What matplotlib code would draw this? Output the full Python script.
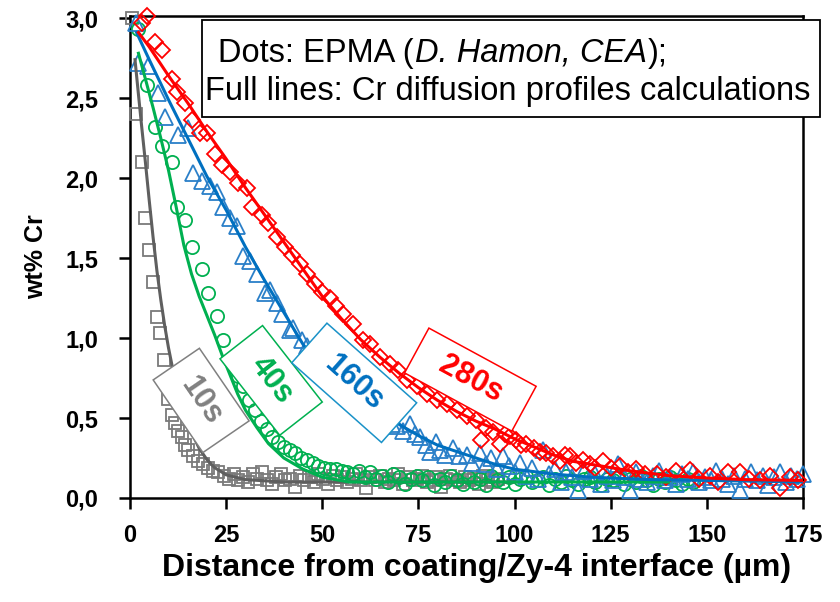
import matplotlib
matplotlib.use("Agg")
import matplotlib.pyplot as plt
import matplotlib.transforms as mtransforms
from matplotlib.patches import Rectangle

plt.rcParams['font.family'] = ['Liberation Sans', 'DejaVu Sans']

# ---- EPMA measurements (dots) ----
gray_x = [0.5, 1.5, 3.0, 4.0, 5.0, 6.1, 6.9, 7.8, 8.9, 10.0, 11.0, 11.7, 12.5, 13.4, 14.3,
          15.2, 16.5, 17.7, 19.0, 20.3, 21.5, 23.0,
          24.5, 25.7, 27.0, 28.2, 29.4, 30.6, 31.9, 33.1, 34.3, 35.5, 36.8, 38.0, 39.2, 40.4,
          41.7, 42.9, 44.1, 45.3, 46.6, 47.8, 49.0, 50.2, 51.5, 52.7, 53.9, 55.1, 56.4, 57.6,
          58.8, 60.0, 61.3, 62.5, 63.7, 64.9, 66.2, 67.4, 68.6, 69.8, 71.1, 72.3, 73.5, 74.7,
          76.0, 77.2, 78.4, 79.6, 80.9, 82.1, 83.3, 84.5, 85.8, 87.0, 88.2, 89.4, 90.7, 91.9,
          93.1, 94.3, 95.6]
gray_y = [3.0, 2.40, 2.10, 1.75, 1.55, 1.35, 1.13, 1.03, 0.86, 0.62, 0.52, 0.47, 0.42, 0.38, 0.33,
          0.30, 0.26, 0.23, 0.21, 0.19, 0.17, 0.16,
          0.14, 0.12, 0.15, 0.11, 0.13, 0.10, 0.15, 0.12, 0.16, 0.11, 0.09, 0.13, 0.15, 0.11,
          0.12, 0.07, 0.14, 0.11, 0.13, 0.10, 0.15, 0.12, 0.09, 0.14, 0.11, 0.13, 0.10, 0.12,
          0.15, 0.11, 0.06, 0.13, 0.11, 0.14, 0.10, 0.12, 0.11, 0.15, 0.09, 0.13, 0.11, 0.12,
          0.14, 0.10, 0.11, 0.13, 0.07, 0.12, 0.14, 0.11, 0.10, 0.13, 0.11, 0.12, 0.09, 0.14,
          0.11, 0.10, 0.12]

green_x = [2.2, 4.3, 6.5, 8.2, 10.8, 12.1, 14.3, 16.0, 18.6, 20.4, 22.5, 24.3, 26.5, 28.0,
           29.5, 31.0, 32.5, 34.0, 35.5, 37.0, 38.5, 40.0, 41.5, 43.0, 44.5, 46.0, 47.5, 49.0,
           50.5, 52.0, 53.5, 55.0, 56.5,
           58.0, 59.5, 61.0, 62.5, 64.0, 65.5, 67.0, 68.5, 70.0, 71.5, 73.0, 74.5, 76.0, 77.5,
           79.0, 80.5, 82.0, 83.5, 85.0, 86.5, 88.0, 89.5, 91.0, 92.5, 94.0, 95.5, 97.0, 98.5,
           100.0, 101.5, 103.0, 104.5, 106.0, 107.5, 109.0, 110.5, 112.0, 113.5, 115.0, 116.5,
           118.0, 119.5, 121.0, 122.5, 124.0, 125.5, 127.0, 128.5, 130.0, 131.5, 133.0, 134.5,
           136.0, 137.5, 139.0, 140.5, 142.0, 143.5, 145.0, 146.5]
green_y = [2.93, 2.58, 2.32, 2.20, 2.10, 1.82, 1.74, 1.57, 1.43, 1.28, 1.14, 0.99, 0.85, 0.76,
           0.70, 0.61, 0.55, 0.48, 0.43, 0.38, 0.35, 0.32, 0.30, 0.28, 0.25, 0.24, 0.22, 0.20,
           0.19, 0.18, 0.18, 0.17, 0.16,
           0.15, 0.17, 0.13, 0.16, 0.12, 0.14, 0.10, 0.15, 0.13, 0.09, 0.12, 0.14, 0.11, 0.13,
           0.08, 0.12, 0.10, 0.14, 0.11, 0.09, 0.13, 0.10, 0.12, 0.08, 0.14, 0.11, 0.10, 0.13,
           0.09, 0.12, 0.14, 0.10, 0.11, 0.13, 0.08, 0.12, 0.10, 0.14, 0.11, 0.09, 0.12, 0.13,
           0.10, 0.08, 0.12, 0.11, 0.13, 0.09, 0.12, 0.10, 0.14, 0.11, 0.08, 0.12, 0.10, 0.13,
           0.11, 0.09, 0.12, 0.10]

blue_x = [1.5, 2.2, 4.8, 7.4, 9.1, 12.6, 15.2, 16.5, 18.6, 20.8, 22.5, 24.3, 26.0, 27.7,
          29.5, 31.2, 33.0, 35.1, 36.5, 38.1, 39.4, 41.6, 42.5, 44.6, 46.0, 48.0, 50.0, 52.0,
          54.0, 56.0, 58.0, 60.0, 62.0, 64.0, 66.0, 68.0,
          69.3, 71.0, 72.8, 74.0, 75.4, 77.0, 78.0, 79.5, 80.6, 82.0, 84.0, 85.5, 87.5, 89.0,
          91.0, 92.5, 94.0, 95.5, 97.0, 98.5, 100.0, 101.5, 103.0, 104.5, 106.0, 107.5, 109.0,
          110.5, 112.0, 113.5, 115.0, 116.5, 118.0, 119.5, 121.0, 122.5, 124.0, 125.5, 127.0,
          128.5, 130.0, 131.5, 133.0, 134.5, 136.0, 137.5, 139.0, 140.5, 142.0, 143.5, 145.0,
          146.5, 148.0, 149.5, 151.0, 152.5, 154.0, 155.5, 157.0, 158.5, 160.0, 161.5, 163.0,
          164.5, 166.0, 167.5, 169.0, 170.5, 172.0, 173.5, 175.0]
blue_y = [2.97, 2.72, 2.70, 2.53, 2.38, 2.27, 2.31, 2.03, 1.98, 1.95, 1.91, 1.82, 1.75, 1.70,
          1.51, 1.48, 1.40, 1.28, 1.30, 1.22, 1.15, 1.05, 1.06, 0.99, 0.95, 0.88, 0.82, 0.76,
          0.70, 0.65, 0.62, 0.58, 0.55, 0.52, 0.49, 0.46,
          0.45, 0.42, 0.46, 0.40, 0.38, 0.33, 0.29, 0.35, 0.30, 0.27, 0.31, 0.26, 0.27, 0.22,
          0.28, 0.21, 0.25, 0.18, 0.26, 0.20, 0.16, 0.22, 0.14, 0.19, 0.12, 0.30, 0.15,
          0.18, 0.10, 0.16, 0.13, 0.05, 0.17, 0.12, 0.15, 0.09, 0.14, 0.11, 0.21,
          0.13, 0.05, 0.16, 0.12, 0.10, 0.14, 0.17, 0.11, 0.13, 0.09, 0.15, 0.12,
          0.16, 0.10, 0.13, 0.11, 0.17, 0.12, 0.09, 0.14, 0.05, 0.12, 0.16, 0.11,
          0.14, 0.08, 0.13, 0.16, 0.10, 0.14, 0.12, 0.15]

red_x = [3.0, 4.3, 6.5, 8.2, 10.8, 12.1, 14.3, 16.0, 18.2, 19.9, 22.1, 23.8, 26.0, 28.2, 30.3,
         31.6, 34.2, 36.0, 38.1, 40.3, 42.0, 44.2, 45.9, 48.1, 49.8, 52.0, 53.5, 55.5, 58.1,
         60.7, 62.4, 65.0, 67.6, 69.8, 71.9, 74.5, 77.1, 79.7, 82.3, 84.9, 87.5, 90.1, 91.4,
         92.5, 94.5, 96.2, 97.5, 98.8, 100.5, 101.8, 103.0, 105.0, 106.5, 108.3, 110.0, 111.8,
         113.0, 114.4, 116.0, 117.9, 119.5, 121.0, 123.0, 125.0, 127.4, 129.5, 131.7, 134.0,
         137.0, 139.5, 142.0, 145.6, 148.0, 150.8, 153.0, 155.5, 158.6, 161.0, 163.8, 166.5,
         169.0, 171.5, 173.8]
red_y = [2.97, 3.01, 2.85, 2.80, 2.62, 2.54, 2.47, 2.36, 2.28, 2.28, 2.15, 2.08, 2.04, 1.97, 1.94,
         1.82, 1.77, 1.72, 1.63, 1.57, 1.52, 1.46, 1.40, 1.34, 1.29, 1.25, 1.20, 1.15, 1.09,
         0.99, 0.96, 0.88, 0.84, 0.80, 0.74, 0.70, 0.65, 0.61, 0.59, 0.55, 0.51, 0.49, 0.36,
         0.44, 0.41, 0.34, 0.40, 0.39, 0.36, 0.33, 0.34, 0.31, 0.29, 0.28, 0.26, 0.23,
         0.27, 0.26, 0.22, 0.24, 0.21, 0.19, 0.23, 0.19, 0.20, 0.16, 0.18, 0.15,
         0.15, 0.13, 0.17, 0.175, 0.12, 0.14, 0.10, 0.16, 0.165, 0.12, 0.11, 0.14,
         0.06, 0.13, 0.11]

# ---- calculated Cr diffusion profiles (full lines) ----
gray_lx = [1.3, 2, 3, 4, 5, 6, 7, 8, 9, 10, 11, 12, 13, 14, 15, 16, 18, 20, 22, 25, 30, 40, 60, 80, 100]
gray_ly = [2.74, 2.57, 2.33, 2.10, 1.86, 1.63, 1.42, 1.24, 1.08, 0.94, 0.82, 0.71, 0.62, 0.54,
           0.47, 0.41, 0.31, 0.24, 0.19, 0.145, 0.115, 0.10, 0.10, 0.10, 0.10]
green_lx = [2.2, 4, 6, 8, 10, 12, 14, 16, 18, 20, 22, 24, 26, 28, 30, 33, 36, 40, 45, 50, 57,
            70, 90, 110, 140]
green_ly = [2.78, 2.62, 2.44, 2.25, 2.05, 1.82, 1.58, 1.40, 1.26, 1.14, 1.02, 0.89, 0.77, 0.65,
            0.55, 0.44, 0.34, 0.25, 0.18, 0.13, 0.10, 0.10, 0.10, 0.10, 0.10]
blue_lx = [1.7, 5, 10, 15, 20, 25, 30, 35, 40, 45, 50, 55, 60, 65, 70, 75, 80, 85, 90, 95, 100,
           110, 120, 135, 150, 175]
blue_ly = [2.91, 2.74, 2.49, 2.25, 2.01, 1.80, 1.57, 1.36, 1.16, 0.96, 0.81, 0.68, 0.59, 0.52,
           0.46, 0.39, 0.33, 0.29, 0.25, 0.21, 0.18, 0.15, 0.13, 0.115, 0.11, 0.10]
red_lx = [2.2, 5, 10, 15, 20, 25, 30, 35, 40, 45, 50, 55, 60, 65, 70, 75, 80, 85, 90, 95, 100,
          105, 110, 115, 120, 125, 130, 140, 150, 160, 175]
red_ly = [2.91, 2.82, 2.64, 2.47, 2.29, 2.12, 1.94, 1.77, 1.60, 1.43, 1.26, 1.12, 0.99, 0.88,
          0.78, 0.69, 0.61, 0.54, 0.48, 0.43, 0.37, 0.32, 0.27, 0.23, 0.21, 0.19, 0.17, 0.14,
          0.125, 0.115, 0.11]

labels = ["10s", "40s", "160s", "280s"]
label_x = [18.5, 36.7, 58.3, 88.5]
label_y = [0.61, 0.735, 0.72, 0.74]

xticks = [0, 25, 50, 75, 100, 125, 150, 175]
yticks = [0.0, 0.5, 1.0, 1.5, 2.0, 2.5, 3.0]

GRAY, GRAY_LINE = "#7a7a7a", "#5f5f5f"
GREEN = "#00b050"
BLUE = "#0070c0"
RED = "#ff0000"

fig = plt.figure(figsize=(8.4, 6.02), dpi=100)
ax = fig.add_axes([130 / 840, 1 - 498 / 602, 673 / 840, 482.5 / 602])

mk = dict(linestyle="none", markerfacecolor="none", markeredgewidth=1.3, clip_on=False, zorder=3)
ax.plot(gray_x, gray_y, marker="s", markersize=9, markeredgecolor=GRAY, **mk)
ax.plot(green_x, green_y, marker="o", markersize=9.5, markeredgecolor=GREEN, **mk)
ax.plot(blue_x, blue_y, marker="^", markersize=11, markeredgecolor="#2a7fc8", **mk)
ax.plot(red_x, red_y, marker="D", markersize=8.3, markeredgecolor=RED, **mk)

ax.plot(gray_lx, gray_ly, color=GRAY_LINE, lw=2.2, zorder=4)
ax.plot(green_lx, green_ly, color=GREEN, lw=2.2, zorder=4)
ax.plot(blue_lx, blue_ly, color=BLUE, lw=2.2, zorder=4)
ax.plot(red_lx, red_ly, color=RED, lw=2.2, zorder=4)

# rotated label boxes (sizes in pixels)
box_w = [88, 97, 120, 122]
box_h = [56, 54, 53, 51]
angles = [-55.6, -52.0, -41.6, -28.5]
text_c = ["#808080", GREEN, BLUE, RED]
edge_c = ["#808080", GREEN, "#1a92c8", RED]
for lab, x, y, w, h, a, tc, ec in zip(labels, label_x, label_y, box_w, box_h, angles, text_c, edge_c):
    tr = mtransforms.Affine2D().rotate_deg(a) + mtransforms.ScaledTranslation(x, y, ax.transData)
    ax.add_patch(Rectangle((-w / 2, -h / 2), w, h, transform=tr, facecolor="white",
                           edgecolor=ec, lw=1.1, zorder=6, clip_on=False))
    ax.text(x, y, lab, rotation=a, rotation_mode="anchor", ha="center", va="center",
            color=tc, fontsize=22, fontweight="bold", zorder=7)

ax.set_xlim(0, 175)
ax.set_ylim(0, 3.016)
ax.set_xticks(xticks)
ax.set_yticks(yticks)
ax.set_yticklabels([f"{v:.1f}".replace(".", ",") for v in yticks],
                   fontsize=17, fontweight="bold")
ax.set_xticklabels([str(v) for v in xticks], fontsize=17, fontweight="bold")
ax.tick_params(axis="y", direction="out", length=8, width=1.8, pad=15)
ax.tick_params(axis="x", direction="out", length=8, width=1.8, pad=11)
for s in ax.spines.values():
    s.set_linewidth(1.8)

ax.set_xlabel("Distance from coating/Zy-4 interface (µm)", fontsize=23, fontweight="bold")
ax.xaxis.set_label_coords((477 - 130) / 673, (498 - 553) / 482.5)
ax.set_ylabel("wt% Cr", fontsize=18, fontweight="bold", labelpad=12)

# note box with mixed upright / italic text
fig.patches.append(Rectangle((202 / 840, 1 - 117 / 602), 618 / 840, 97 / 602,
                             transform=fig.transFigure, facecolor="white",
                             edgecolor="black", lw=1.3, zorder=8))
renderer = fig.canvas.get_renderer()
xpos = 218
for piece, style in [("Dots: EPMA (", "normal"), ("D. Hamon, CEA", "italic"), (");", "normal")]:
    t = fig.text(xpos / 840, 1 - 62 / 602, piece, fontsize=23.5, style=style,
                 va="baseline", zorder=9)
    xpos = t.get_window_extent(renderer).x1 + 1
fig.text(205 / 840, 1 - 100 / 602, "Full lines: Cr diffusion profiles calculations",
         fontsize=23.5, va="baseline", zorder=9)

fig.savefig("out.png", dpi=100)
